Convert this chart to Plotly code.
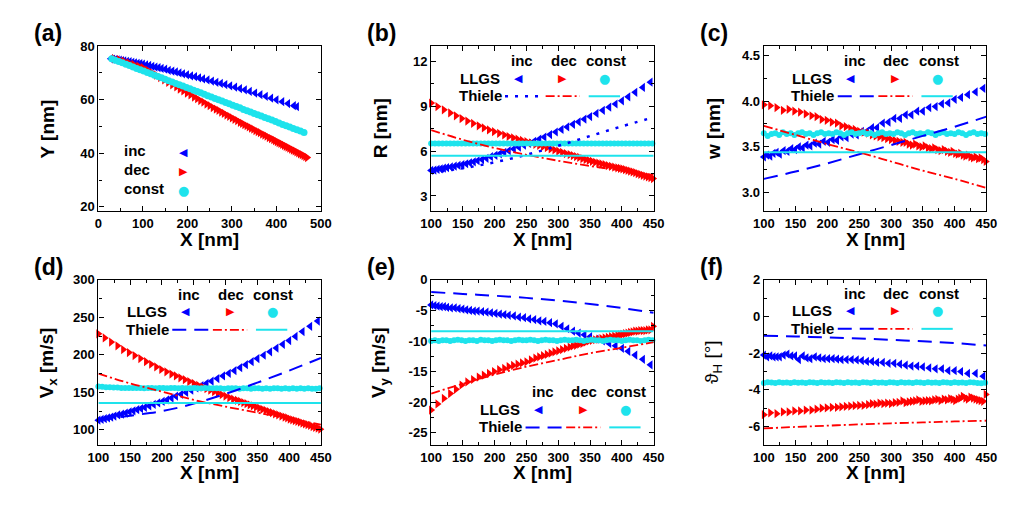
import plotly.graph_objects as go

W, H = 1030, 509
FONT = "Liberation Sans, Arial, sans-serif"
BLUE = "#0000FF"
RED = "#FF0000"
CYAN = "#1EE3EC"

# ---------------- panel (a): trajectories ----------------
xa_inc = [28,33,38,43,48,53,58,64,70,76,82,88,94,100,107,114,121,128,135,142,150,158,166,174,182,190,199,208,217,226,
          235,245,255,265,275,285,296,307,318,329,340,352,364,376,388,400,413,426,439,446]
ya_inc = [75.3,75.2,75.0,74.9,74.8,74.6,74.5,74.3,74.2,74.0,73.8,73.6,73.5,73.3,73.0,72.8,72.5,72.2,72.0,71.7,
          71.4,71.0,70.7,70.4,70.0,69.7,69.3,68.9,68.6,68.2,67.8,67.4,67.0,66.5,66.1,65.7,65.2,64.7,64.2,63.7,
          63.1,62.5,61.9,61.3,60.6,60.0,59.3,58.6,57.8,57.4]
xa_dec = [35,46,57,68,79,90,100,110,120,130,139,148,157,166,175,183,191,199,207,215,222,229,236,243,250,257,264,270,276,282,
          288,294,300,306,312,318,323,328,333,338,343,348,353,358,363,368,373,378,383,388,393,397,401,405,409,413,417,421,425,429,
          433,437,441,445,449,453,457,461,465,469]
ya_dec = [75.4,75.0,74.4,73.8,73.2,72.6,72.0,71.1,70.1,69.2,68.3,67.4,66.5,65.6,64.8,64.0,63.3,62.5,61.8,61.0,
          60.4,59.7,59.1,58.4,57.8,57.1,56.5,56.0,55.4,54.9,54.3,53.8,53.2,52.7,52.2,51.6,51.2,50.7,50.3,49.9,
          49.4,49.0,48.5,48.1,47.7,47.2,46.8,46.4,45.9,45.5,45.1,44.7,44.4,44.0,43.7,43.3,43.0,42.6,42.3,41.9,
          41.6,41.2,40.9,40.5,40.2,39.8,39.5,39.1,38.8,38.4]
xa_const = [30,38,46,54,62,70,78,86,94,102,110,118,126,134,142,150,158,166,174,182,190,198,206,214,222,230,238,246,254,262,
            270,278,286,294,302,310,318,326,334,342,350,358,366,374,382,390,398,406,414,422,430,438,446,454,462]
ya_const = [75.3,74.8,74.3,73.8,73.3,72.8,72.2,71.7,71.2,70.7,70.2,69.7,69.2,68.7,68.2,67.7,67.1,66.6,66.1,65.6,
            65.1,64.6,64.1,63.6,63.1,62.6,62.1,61.5,61.0,60.5,60.0,59.5,59.0,58.5,58.0,57.5,57.0,56.4,55.9,55.4,
            54.9,54.4,53.9,53.4,52.9,52.4,51.9,51.3,50.8,50.3,49.8,49.3,48.8,48.3,47.8]

# ---------------- panels (b)-(f): sample positions ----------------
x_inc = [100,105,110,115,120,125,131,137,143,149,155,161,167,173,180,187,194,201,208,215,222,230,238,246,254,262,270,278,
         287,296,305,314,323,332,341,350,360,370,380,390,400,410,421,433,445]
x_dec = [100,110,120,130,139,148,157,166,175,183,191,199,207,215,222,229,236,243,250,257,264,270,276,282,288,294,300,306,
         312,318,323,328,333,338,343,348,353,358,363,368,373,378,383,388,393,397,401,405,409,413,417,421,425,429,433,437,
         441,445,449]
x_const = [100,106,112,118,124,130,136,142,148,154,160,166,172,178,184,190,196,202,208,214,220,226,232,238,244,250,256,262,
           268,274,280,286,292,298,304,310,316,322,328,334,340,346,352,358,364,370,376,382,388,394,400,406,412,418,424,430,
           436,442,448]
x_thiele = [100,150,200,250,300,350,400,450]

# (b) R [nm]
R_inc = [4.70,4.73,4.77,4.81,4.85,4.89,4.94,4.99,5.04,5.09,5.15,5.21,5.28,5.35,5.43,5.51,5.62,5.71,5.81,5.91,6.02,6.14,
         6.26,6.39,6.51,6.65,6.79,6.93,7.10,7.27,7.44,7.61,7.78,7.95,8.13,8.30,8.51,8.72,8.93,9.14,9.35,9.62,9.92,10.25,10.60]
R_dec = [9.20,8.97,8.75,8.54,8.35,8.17,8.00,7.84,7.68,7.54,7.41,7.29,7.18,7.07,6.97,6.88,6.79,6.71,6.63,6.54,6.45,6.37,
         6.30,6.22,6.14,6.07,5.99,5.91,5.83,5.76,5.70,5.63,5.57,5.50,5.43,5.37,5.31,5.25,5.20,5.14,5.09,5.03,4.98,4.93,
         4.88,4.84,4.80,4.75,4.70,4.65,4.60,4.55,4.49,4.44,4.38,4.33,4.27,4.22,4.16]
R_const = [6.5,6.5,6.5,6.5,6.5,6.5,6.5,6.5,6.5,6.5,6.5,6.5,6.5,6.5,6.5,6.5,6.5,6.5,6.5,6.5,6.5,6.5,6.5,6.5,6.5,6.5,6.5,
           6.5,6.5,6.5,6.5,6.5,6.5,6.5,6.5,6.5,6.5,6.5,6.5,6.5,6.5,6.5,6.5,6.5,6.5,6.5,6.5,6.5,6.5,6.5,6.5,6.5,6.5,6.5,
           6.5,6.5,6.5,6.5,6.5]
R_th_inc = [4.55,4.85,5.25,5.75,6.35,7.00,7.65,8.25]
R_th_dec = [7.40,6.75,6.20,5.75,5.35,5.00,4.70,4.40]
R_th_const = [5.68,5.68,5.68,5.68,5.68,5.68,5.68,5.68]

# (c) w [nm]
w_inc = [3.39,3.41,3.40,3.43,3.44,3.42,3.46,3.45,3.48,3.47,3.50,3.49,3.52,3.51,3.54,3.53,3.56,3.55,3.58,3.57,3.61,3.60,
         3.64,3.63,3.67,3.67,3.71,3.71,3.76,3.77,3.81,3.81,3.85,3.85,3.89,3.89,3.93,3.94,3.97,3.98,4.02,4.04,4.07,4.10,4.14]
w_dec = [3.96,3.95,3.93,3.90,3.91,3.89,3.88,3.86,3.84,3.83,3.80,3.79,3.77,3.76,3.73,3.72,3.70,3.69,3.67,3.66,3.65,3.63,
         3.62,3.61,3.60,3.59,3.58,3.57,3.56,3.55,3.55,3.53,3.52,3.53,3.51,3.50,3.51,3.49,3.48,3.49,3.47,3.46,3.47,3.45,
         3.44,3.45,3.43,3.42,3.43,3.41,3.40,3.41,3.39,3.38,3.39,3.37,3.38,3.36,3.34]
w_const = [3.65,3.62,3.64,3.65,3.63,3.66,3.64,3.65,3.63,3.65,3.66,3.64,3.65,3.63,3.65,3.66,3.64,3.65,3.64,3.66,
           3.65,3.63,3.65,3.66,3.64,3.65,3.66,3.64,3.65,3.63,3.65,3.66,3.64,3.65,3.64,3.66,3.65,3.63,3.65,3.66,
           3.64,3.65,3.64,3.66,3.65,3.63,3.65,3.66,3.64,3.65,3.64,3.66,3.65,3.63,3.65,3.66,3.64,3.65,3.64]
w_th_inc = [3.15,3.23,3.32,3.42,3.52,3.62,3.72,3.83]
w_th_dec = [3.73,3.63,3.53,3.44,3.34,3.24,3.15,3.05]
w_th_const = [3.44,3.44,3.44,3.44,3.44,3.44,3.44,3.44]

# (d) Vx [m/s]
vx_inc = [113,114,115,116,117,118.5,120,121,122.5,124,125.5,127,128.5,130,132,134,136,138,140,142.5,145,147.5,150,153,
          156,159,162,165,168.5,172,175.5,179,183,187,191,195,199.5,204,209,214,219,224.5,231,238,245]
vx_dec = [228,222.5,217,212,207,203,199,195,191,187.5,184,180.5,177.5,174.5,172,169.5,167,164.5,162,159.5,157,155,153,
          151,149,147,145,143,141,139.5,138,136.5,135,133.5,132,130.5,129,127.5,126,124.5,123,121.5,120,118.5,117,116,
          114.5,113.5,112.5,111.5,110.5,109,108,107,106,104.5,103.5,102.5,101]
vx_const = [158,157.5,157,157,156.5,156.5,156,156,156,156,156,156,155.5,156,156,155.5,156,156,155.5,156,
            156,155.5,156,155.5,155.5,156,155.5,155.5,156,155.5,155.5,155.5,155.5,155,155.5,155.5,155.5,155,155.5,155.5,
            155,155.5,155.5,155,155.5,155,155.5,155.5,155,155.5,155,155.5,155,155.5,155,155.5,155,155,155.5]
vx_th_inc = [113,119,125,135,148,163,179,196]
vx_th_dec = [175,162,151,140,131,123,115,107]
vx_th_const = [136,136,136,136,136,136,136,136]

# (e) Vy [m/s]
vy_inc = [-4.1,-4.2,-4.3,-4.4,-4.4,-4.5,-4.6,-4.6,-4.7,-4.8,-4.9,-5.0,-5.1,-5.1,-5.2,-5.3,-5.4,-5.5,-5.6,-5.7,-5.8,-5.9,
          -6.1,-6.2,-6.4,-6.5,-6.7,-6.8,-7.0,-7.2,-7.6,-8.0,-8.4,-8.7,-9.0,-9.3,-9.7,-10.0,-10.4,-10.8,-11.2,-11.7,-12.3,
          -13.0,-13.9]
vy_dec = [-21.3,-20.3,-19.4,-18.6,-17.9,-17.2,-16.7,-16.3,-15.9,-15.6,-15.3,-15.0,-14.7,-14.5,-14.2,-14.0,-13.8,-13.6,
          -13.4,-13.1,-12.8,-12.6,-12.4,-12.2,-12.0,-11.8,-11.6,-11.4,-11.2,-11.0,-10.8,-10.7,-10.5,-10.4,-10.2,-10.0,
          -9.9,-9.8,-9.7,-9.6,-9.5,-9.4,-9.3,-9.2,-9.1,-9.0,-8.9,-8.8,-8.7,-8.6,-8.5,-8.4,-8.4,-8.3,-8.3,-8.3,-8.2,-8.2,-7.6]
vy_const = [-10.0,-9.9,-10.0,-9.9,-9.9,-10.0,-9.9,-9.8,-9.9,-10.0,-9.9,-9.9,-10.0,-9.8,-9.9,-9.9,-10.0,-9.9,-9.8,-9.9,
            -9.9,-10.0,-9.9,-9.8,-9.9,-9.9,-9.8,-9.9,-10.0,-9.9,-9.8,-9.9,-9.9,-10.0,-9.9,-9.8,-9.9,-9.9,-9.8,-9.9,
            -10.0,-9.9,-9.8,-9.9,-9.9,-10.0,-9.9,-9.8,-9.9,-9.9,-10.0,-9.9,-9.8,-9.9,-9.9,-10.0,-9.9,-9.8,-9.9]
vy_th_inc = [-2.0,-2.3,-2.6,-2.95,-3.4,-3.95,-4.6,-5.4]
vy_th_dec = [-18.6,-17.0,-15.5,-14.2,-13.1,-12.0,-11.1,-10.2]
vy_th_const = [-8.4,-8.4,-8.4,-8.4,-8.4,-8.4,-8.4,-8.4]

# (f) theta_H [deg]
th_inc = [-2.1,-2.2,-2.15,-2.2,-2.2,-2.2,-2.1,-2.05,-2.15,-2.15,-2.35,-2.15,-2.25,-2.3,-2.2,-2.25,-2.3,-2.3,-2.3,-2.32,
          -2.35,-2.35,-2.35,-2.37,-2.4,-2.45,-2.45,-2.5,-2.5,-2.55,-2.55,-2.6,-2.65,-2.7,-2.7,-2.75,-2.8,-2.85,-2.85,
          -2.95,-2.95,-3.0,-3.1,-3.1,-3.25]
th_dec = [-5.35,-5.25,-5.3,-5.2,-5.2,-5.15,-5.15,-5.1,-5.1,-5.05,-5.0,-4.98,-4.95,-4.95,-4.92,-4.9,-4.88,-4.86,-4.85,
          -4.85,-4.8,-4.75,-4.78,-4.72,-4.75,-4.72,-4.75,-4.7,-4.68,-4.6,-4.7,-4.65,-4.62,-4.6,-4.55,-4.62,-4.6,-4.58,
          -4.6,-4.55,-4.52,-4.58,-4.5,-4.55,-4.48,-4.52,-4.58,-4.5,-4.45,-4.35,-4.45,-4.5,-4.4,-4.45,-4.5,-4.55,-4.58,
          -4.62,-4.25]
th_const = [-3.62,-3.58,-3.60,-3.63,-3.59,-3.61,-3.60,-3.62,-3.58,-3.61,-3.60,-3.63,-3.59,-3.60,-3.62,-3.58,-3.61,-3.60,
            -3.63,-3.59,-3.60,-3.62,-3.58,-3.61,-3.60,-3.63,-3.59,-3.60,-3.62,-3.58,-3.61,-3.60,-3.63,-3.59,-3.60,-3.62,
            -3.58,-3.61,-3.60,-3.63,-3.59,-3.60,-3.62,-3.58,-3.61,-3.60,-3.63,-3.59,-3.60,-3.62,-3.58,-3.61,-3.60,-3.63,
            -3.59,-3.60,-3.62,-3.64,-3.61]
th_th_inc = [-1.05,-1.09,-1.14,-1.20,-1.27,-1.35,-1.45,-1.58]
th_th_dec = [-6.10,-6.02,-5.95,-5.88,-5.82,-5.77,-5.72,-5.68]
th_th_const = [-3.6,-3.6,-3.6,-3.6,-3.6,-3.6,-3.6,-3.6]

# tick labels
e_tickvals = [-25, -20, -15, -10, -5, 0]
e_ticktext = ["-25", "-20", "-15", "-10", "-5", "0"]
f_tickvals = [-6, -4, -2, 0, 2]
f_ticktext = ["-6", "-4", "-2", "0", "2"]

# ---------------- layout geometry (pixels) ----------------
COL_L = [89.3, 429.3, 769.3]
COL_R = [316.7, 656.7, 996.7]
ROW_T = [40.0, 278.3]
ROW_B = [208.0, 446.7]


def px(x):
    return x / W


def py(y):
    return 1 - y / H


fig = go.Figure()

panels = [
    dict(label="(a)", ytitle="<b>Y [nm]</b>", xr=[0, 500], xd=100, xm=50, yr=[18.5, 80], y0=20, yd=20, ym=10),
    dict(label="(b)", ytitle="<b>R [nm]</b>", xr=[100, 450], xd=50, xm=25, yr=[2, 13], y0=3, yd=3, ym=1.5,
         inc=R_inc, dec=R_dec, const=R_const, th=(R_th_inc, R_th_dec, R_th_const), incdash="3px,7px",
         leg=dict(dx=0, dy=0)),
    dict(label="(c)", ytitle="<b>w [nm]</b>", xr=[100, 450], xd=50, xm=25, yr=[2.8, 4.6], y0=3.0, yd=0.5, ym=0.25,
         fmt=".1f", inc=w_inc, dec=w_dec, const=w_const, th=(w_th_inc, w_th_dec, w_th_const), incdash="14px,8px",
         leg=dict(dx=0, dy=0)),
    dict(label="(d)", ytitle="<b>V<sub>x</sub> [m/s]</b>", xr=[100, 450], xd=50, xm=25, yr=[80, 300], y0=100, yd=50,
         ym=25, inc=vx_inc, dec=vx_dec, const=vx_const, th=(vx_th_inc, vx_th_dec, vx_th_const), incdash="14px,8px",
         leg=dict(dx=0, dy=0)),
    dict(label="(e)", ytitle="<b>V<sub>y</sub> [m/s]</b>", xr=[100, 450], xd=50, xm=25, yr=[-27, 0],
         tv=e_tickvals, tt=e_ticktext, ym=2.5,
         inc=vy_inc, dec=vy_dec, const=vy_const, th=(vy_th_inc, vy_th_dec, vy_th_const), incdash="14px,8px",
         leg=dict(dx=21, dy=99.5)),
    dict(label="(f)", ytitle="ϑ<sub>H</sub> [°]", xr=[100, 450], xd=50, xm=25, yr=[-7, 2],
         tv=f_tickvals, tt=f_ticktext, ym=1,
         inc=th_inc, dec=th_dec, const=th_const, th=(th_th_inc, th_th_dec, th_th_const), incdash="14px,8px",
         leg=dict(dx=0, dy=-1)),
]

annotations = []
shapes = []
tickfont = dict(family=FONT, size=13, color="black", weight="bold")
AXC = "black"
LW = 1.3
TRI = 8
DOT_A = 7
DOT = 6

for i, p in enumerate(panels):
    col, row = i % 3, i // 3
    L, R, T, B = COL_L[col], COL_R[col], ROW_T[row], ROW_B[row]
    n = "" if i == 0 else str(i + 1)
    xa, ya = "x" + n, "y" + n

    common = dict(showline=True, linecolor=AXC, linewidth=LW, mirror="ticks", ticks="inside", ticklen=5,
                  tickwidth=LW, tickcolor=AXC, showgrid=False, zeroline=False, tickfont=tickfont)
    xaxis = dict(domain=[px(L), px(R)], range=p["xr"], anchor=ya, tickmode="linear", tick0=0, dtick=p["xd"],
                 minor=dict(ticks="inside", ticklen=3, tickwidth=LW, tickcolor=AXC, dtick=p["xm"], tick0=0),
                 **common)
    yaxis = dict(domain=[py(B), py(T)], range=p["yr"], anchor=xa,
                 minor=dict(ticks="inside", ticklen=3, tickwidth=LW, tickcolor=AXC, dtick=p["ym"], tick0=0),
                 **common)
    if "tv" in p:
        yaxis.update(tickmode="array", tickvals=p["tv"], ticktext=p["tt"])
    else:
        yaxis.update(tickmode="linear", tick0=p["y0"], dtick=p["yd"])
    if "fmt" in p:
        yaxis.update(tickformat=p["fmt"])
    fig.update_layout(**{("xaxis" + n): xaxis, ("yaxis" + n): yaxis})

    # data
    if i == 0:
        fig.add_trace(go.Scatter(x=xa_inc, y=ya_inc, mode="markers", xaxis=xa, yaxis=ya, cliponaxis=False,
                                 marker=dict(symbol="triangle-left", size=TRI, color=BLUE)))
        fig.add_trace(go.Scatter(x=xa_dec, y=ya_dec, mode="markers", xaxis=xa, yaxis=ya, cliponaxis=False,
                                 marker=dict(symbol="triangle-right", size=TRI, color=RED)))
        fig.add_trace(go.Scatter(x=xa_const, y=ya_const, mode="markers", xaxis=xa, yaxis=ya, cliponaxis=False,
                                 marker=dict(symbol="circle", size=DOT_A, color=CYAN)))
        wid_inc = 2
    else:
        fig.add_trace(go.Scatter(x=x_inc, y=p["inc"], mode="markers", xaxis=xa, yaxis=ya, cliponaxis=False,
                                 marker=dict(symbol="triangle-left", size=TRI, color=BLUE)))
        fig.add_trace(go.Scatter(x=x_dec, y=p["dec"], mode="markers", xaxis=xa, yaxis=ya, cliponaxis=False,
                                 marker=dict(symbol="triangle-right", size=TRI, color=RED)))
        fig.add_trace(go.Scatter(x=x_const, y=p["const"], mode="markers", xaxis=xa, yaxis=ya, cliponaxis=False,
                                 marker=dict(symbol="circle", size=DOT, color=CYAN)))
        thi, thd, thc = p["th"]
        wid_inc = 2.5 if p["incdash"].startswith("3px") else 2
        fig.add_trace(go.Scatter(x=x_thiele, y=thi, mode="lines", xaxis=xa, yaxis=ya,
                                 line=dict(color=BLUE, width=wid_inc, dash=p["incdash"], shape="spline")))
        fig.add_trace(go.Scatter(x=x_thiele, y=thd, mode="lines", xaxis=xa, yaxis=ya,
                                 line=dict(color=RED, width=1.8, dash="9px,3px,2px,3px", shape="spline")))
        fig.add_trace(go.Scatter(x=x_thiele, y=thc, mode="lines", xaxis=xa, yaxis=ya,
                                 line=dict(color=CYAN, width=2, shape="spline")))

    # panel label
    annotations.append(dict(text="<b>%s</b>" % p["label"], x=px(L - 67.5), y=py(T - 13), xref="paper", yref="paper",
                            xanchor="left", yanchor="middle", showarrow=False,
                            font=dict(family=FONT, size=23, color="black")))
    # axis titles
    xt_y = 237 if row == 0 else 475
    annotations.append(dict(text="<b>X [nm]</b>", x=px((L + R) / 2), y=py(xt_y), xref="paper", yref="paper",
                            xanchor="center", yanchor="middle", showarrow=False,
                            font=dict(family=FONT, size=19, color="black")))
    annotations.append(dict(text=p["ytitle"], x=px(L - 51.5), y=py((T + B) / 2), xref="paper", yref="paper",
                            xanchor="center", yanchor="middle", showarrow=False, textangle=-90,
                            font=dict(family=FONT, size=19, color="black")))

    LEGF = dict(family=FONT, size=15, color="black")
    if i == 0:
        for txt, sym, col_, yy, fs in [("inc", "◀", BLUE, 106.7, 11), ("dec", "▶", RED, 125.7, 11),
                                       ("const", "●", CYAN, 145.0, 13)]:
            annotations.append(dict(text="<b>%s</b>" % txt, x=px(L + 23.7), y=py(T + yy), xref="paper",
                                    yref="paper", xanchor="left", yanchor="middle", showarrow=False, font=LEGF))
            annotations.append(dict(text=sym, x=px(L + 87), y=py(T + yy + 2), xref="paper", yref="paper",
                                    xanchor="center", yanchor="middle", showarrow=False,
                                    font=dict(family="DejaVu Sans", size=fs, color=col_)))
    else:
        dx, dy = p["leg"]["dx"], p["leg"]["dy"]
        # header
        for txt, xx in [("inc", 93), ("dec", 135.5), ("const", 178.5)]:
            annotations.append(dict(text="<b>%s</b>" % txt, x=px(L + dx + xx), y=py(T + dy + 14.5), xref="paper",
                                    yref="paper", xanchor="center", yanchor="middle", showarrow=False, font=LEGF))
        annotations.append(dict(text="<b>LLGS</b>", x=px(L + dx + 72), y=py(T + dy + 32.5), xref="paper",
                                yref="paper", xanchor="right", yanchor="middle", showarrow=False, font=LEGF))
        annotations.append(dict(text="<b>Thiele</b>", x=px(L + dx + 74), y=py(T + dy + 50.5), xref="paper",
                                yref="paper", xanchor="right", yanchor="middle", showarrow=False, font=LEGF))
        for sym, col_, xx, fs in [("◀", BLUE, 89, 11), ("▶", RED, 134.5, 11), ("●", CYAN, 177.5, 13)]:
            annotations.append(dict(text=sym, x=px(L + dx + xx), y=py(T + dy + 32.5), xref="paper", yref="paper",
                                    xanchor="center", yanchor="middle", showarrow=False,
                                    font=dict(family="DejaVu Sans", size=fs, color=col_)))
        ly = py(T + dy + 51)
        shapes.append(dict(type="line", xref="paper", yref="paper", x0=px(L + dx + 75.5), x1=px(L + dx + 113),
                           y0=ly, y1=ly, line=dict(color=BLUE, width=wid_inc, dash=p["incdash"])))
        shapes.append(dict(type="line", xref="paper", yref="paper", x0=px(L + dx + 117), x1=px(L + dx + 152),
                           y0=ly, y1=ly, line=dict(color=RED, width=1.8, dash="9px,3px,2px,3px")))
        shapes.append(dict(type="line", xref="paper", yref="paper", x0=px(L + dx + 161), x1=px(L + dx + 193),
                           y0=ly, y1=ly, line=dict(color=CYAN, width=2)))

fig.update_layout(width=W, height=H, autosize=False, margin=dict(l=0, r=0, t=0, b=0),
                  paper_bgcolor="white", plot_bgcolor="white", showlegend=False,
                  annotations=annotations, shapes=shapes, font=dict(family=FONT, color="black"))

fig.write_html("out.html")
